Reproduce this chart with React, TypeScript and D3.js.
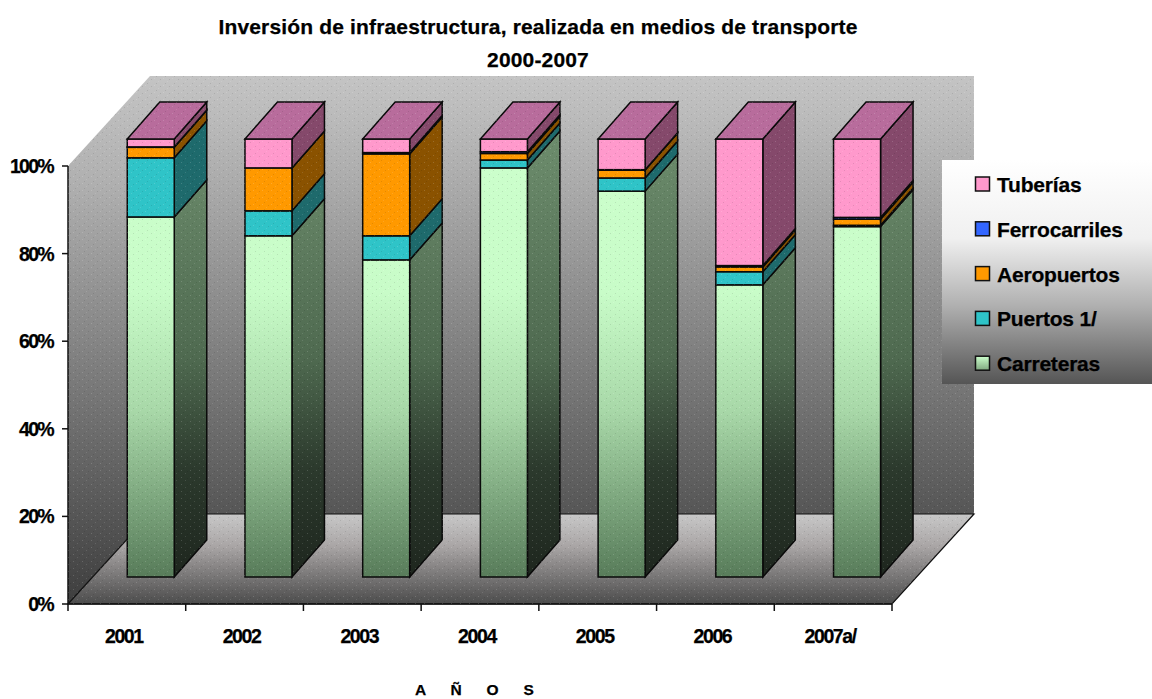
import React from "react";
import * as d3 from "d3";

const years = ["2001", "2002", "2003", "2004", "2005", "2006", "2007a/"];
const carreteras = [82.2, 77.9, 72.4, 93.4, 88.1, 66.7, 80.0];
const puertos = [13.5, 5.7, 5.5, 1.8, 3.0, 3.0, 0.3];
const aeropuertos = [2.4, 9.8, 18.7, 1.5, 1.8, 1.1, 1.4];
const ferrocarriles = [0.1, 0.0, 0.3, 0.4, 0.1, 0.3, 0.4];
const tuberias = [1.8, 6.6, 3.1, 2.9, 7.0, 28.9, 17.9];

const seriesNames = ["Carreteras", "Puertos 1/", "Aeropuertos", "Ferrocarriles", "Tuberías"];
const seriesValues = [carreteras, puertos, aeropuertos, ferrocarriles, tuberias];
const seriesFill = ["url(#frontGreen)", "#2fc4c8", "#ff9900", "#3366ff", "#ff99cc"];
const seriesSide = ["url(#sideGreen)", "#1e6a6c", "#8a5200", "#1c3580", "#85496b"];
const legendFill = ["url(#legendGreen)", "#2fc4c8", "#ff9900", "#3366ff", "#ff99cc"];
const yTicks = [0, 20, 40, 60, 80, 100];
const yearLabelShift = -3;

const W = 1152, H = 699;
const L = 68, R = 892, B = 604, T = 166;
const DX = 82, DY = 90;
const barDX = 32.5, barDY = 37;
const barW = 47, barLift = 27;
const FONT = "Liberation Sans";

export default function App() {
  const x = d3.scaleBand().domain(years).range([L, R]);
  const y = d3.scaleLinear().domain([0, 100]).range([B, T]);
  const rows = years.map((yr, i) => {
    const r: any = { yr };
    seriesNames.forEach((s, k) => (r[s] = seriesValues[k][i]));
    return r;
  });
  const stacked = d3.stack().keys(seriesNames).offset(d3.stackOffsetExpand)(rows);
  const poly = (p: number[][]) => d3.line()(p as any) + "Z";

  const textProps = { fontFamily: FONT, fontWeight: "bold", fill: "#000", stroke: "#000", strokeWidth: 0.25 } as const;

  return (
    <svg width={W} height={H} viewBox={`0 0 ${W} ${H}`} style={{ position: "absolute", left: 0, top: 0, display: "block", background: "#fff" }}>
      <defs>
        <linearGradient id="wall" gradientUnits="userSpaceOnUse" x1="0" x2="0" y1={T - DY} y2={B - DY}>
          <stop offset="0" stopColor="#c4c4c4" />
          <stop offset="0.2" stopColor="#b0b0b0" />
          <stop offset="1" stopColor="#565656" />
        </linearGradient>
        <linearGradient id="side" gradientUnits="userSpaceOnUse" x1="0" x2="0" y1={T - DY} y2={B}>
          <stop offset="0" stopColor="#c4c4c4" />
          <stop offset="0.2" stopColor="#b0b0b0" />
          <stop offset="1" stopColor="#3e3e3e" />
        </linearGradient>
        <linearGradient id="floor" gradientUnits="userSpaceOnUse" x1="0" x2="0" y1={B - DY} y2={B}>
          <stop offset="0" stopColor="#c8c8c8" />
          <stop offset="0.35" stopColor="#aaa6a6" />
          <stop offset="1" stopColor="#4c4c4c" />
        </linearGradient>
        <linearGradient id="frontGreen" gradientUnits="userSpaceOnUse" x1="0" x2="0" y1={y(100) - barLift} y2={B - barLift}>
          <stop offset="0" stopColor="#ccffcc" />
          <stop offset="0.35" stopColor="#c8fcc8" />
          <stop offset="0.62" stopColor="#a8d8a8" />
          <stop offset="1" stopColor="#587c5a" />
        </linearGradient>
        <linearGradient id="sideGreen" gradientUnits="userSpaceOnUse" x1="0" x2="0" y1={y(100) - barLift} y2={B - barLift}>
          <stop offset="0" stopColor="#6c8c6c" />
          <stop offset="0.5" stopColor="#4f6a50" />
          <stop offset="0.75" stopColor="#2c3a2d" />
          <stop offset="1" stopColor="#1e261e" />
        </linearGradient>
        <linearGradient id="legendBg" x1="0" x2="0" y1="0" y2="1">
          <stop offset="0" stopColor="#ffffff" />
          <stop offset="0.35" stopColor="#f0f0f0" />
          <stop offset="0.65" stopColor="#b0b0b0" />
          <stop offset="1" stopColor="#555555" />
        </linearGradient>
        <linearGradient id="legendGreen" x1="0" x2="0" y1="0" y2="1">
          <stop offset="0" stopColor="#ccffcc" />
          <stop offset="1" stopColor="#80a880" />
        </linearGradient>
        <pattern id="dither" width="9" height="7" patternUnits="userSpaceOnUse">
          <rect x="1" y="1" width="1" height="1" fill="#fff" opacity="0.16" />
          <rect x="5" y="4" width="1" height="1" fill="#fff" opacity="0.12" />
          <rect x="7" y="2" width="1" height="1" fill="#000" opacity="0.1" />
          <rect x="3" y="6" width="1" height="1" fill="#000" opacity="0.1" />
        </pattern>
      </defs>

      {/* walls */}
      <path d={poly([[L + DX, T - DY], [R + DX, T - DY], [R + DX, B - DY], [L + DX, B - DY]])} fill="url(#wall)" />
      <path d={poly([[L, T], [L + DX, T - DY], [L + DX, B - DY], [L, B]])} fill="url(#side)" />
      <path d={poly([[L, B], [L + DX, B - DY], [R + DX, B - DY], [R, B]])} fill="url(#floor)" stroke="#111" strokeWidth={1.2} />

      {/* axes */}
      <line x1={L} x2={L} y1={T} y2={B} stroke="#111" strokeWidth={1.5} />
      <line x1={L} x2={R} y1={B} y2={B} stroke="#111" strokeWidth={1.5} />
      {yTicks.map((t) => (
        <g key={t}>
          <line x1={L - 6} x2={L} y1={y(t)} y2={y(t)} stroke="#111" strokeWidth={1.5} />
          <text x={53} y={y(t) + 7} textAnchor="end" fontSize={19.5} letterSpacing={-1.7} {...textProps}>{t}%</text>
        </g>
      ))}
      {[...years, null].map((yr, i) => {
        const tx = L + i * x.step();
        return <line key={i} x1={tx} x2={tx} y1={B} y2={B + 7} stroke="#111" strokeWidth={1.5} />;
      })}
      {years.map((yr) => (
        <text key={yr} x={(x(yr) as number) + x.bandwidth() / 2 + yearLabelShift} y={642.5} textAnchor="middle" fontSize={19.5} letterSpacing={-1.4} {...textProps}>{yr}</text>
      ))}

      {/* bars */}
      {years.map((yr, i) => {
        const bx = (x(yr) as number) + x.bandwidth() / 2 + 0.4;
        return (
          <g key={yr} stroke="#0a0a0a" strokeWidth={1.5} strokeLinejoin="miter">
            {stacked.map((s, k) => {
              const y0 = y(s[i][0] * 100) - barLift;
              const y1 = y(s[i][1] * 100) - barLift;
              return (
                <g key={k}>
                  <path d={poly([[bx + barW, y0], [bx + barW + barDX, y0 - barDY], [bx + barW + barDX, y1 - barDY], [bx + barW, y1]])} fill={seriesSide[k]} />
                  <rect x={bx} y={y1} width={barW} height={y0 - y1} fill={seriesFill[k]} />
                </g>
              );
            })}
            <path
              d={poly([[bx, T - barLift], [bx + barDX, T - barLift - barDY], [bx + barW + barDX, T - barLift - barDY], [bx + barW, T - barLift]])}
              fill="#b86c9c"
            />
          </g>
        );
      })}

      {/* dither texture of the plot */}
      <path d={poly([[L, T], [L + DX, T - DY], [R + DX, T - DY], [R + DX, B - DY], [R, B], [L, B]])} fill="url(#dither)" pointerEvents="none" />

      {/* legend */}
      <rect x={942} y={160} width={210} height={224} fill="url(#legendBg)" />
      {[...seriesNames].reverse().map((name, j) => {
        const k = seriesNames.length - 1 - j;
        const cy = 184 + j * 44.8;
        return (
          <g key={name}>
            <rect x={975.5} y={cy - 7} width={14} height={14} fill={legendFill[k]} stroke="#111" strokeWidth={1.5} />
            <text x={997} y={cy + 8} fontSize={21} letterSpacing={-0.2} {...textProps}>{name}</text>
          </g>
        );
      })}

      {/* titles */}
      <text x={538} y={34} textAnchor="middle" fontSize={21} letterSpacing={0.16} {...textProps}>Inversión de infraestructura, realizada en medios de transporte</text>
      <text x={538} y={67} textAnchor="middle" fontSize={21} letterSpacing={0.16} {...textProps}>2000-2007</text>
      <text x={415} y={695} fontSize={15.5} letterSpacing={10.3} {...textProps}>A Ñ O S</text>
    </svg>
  );
}
